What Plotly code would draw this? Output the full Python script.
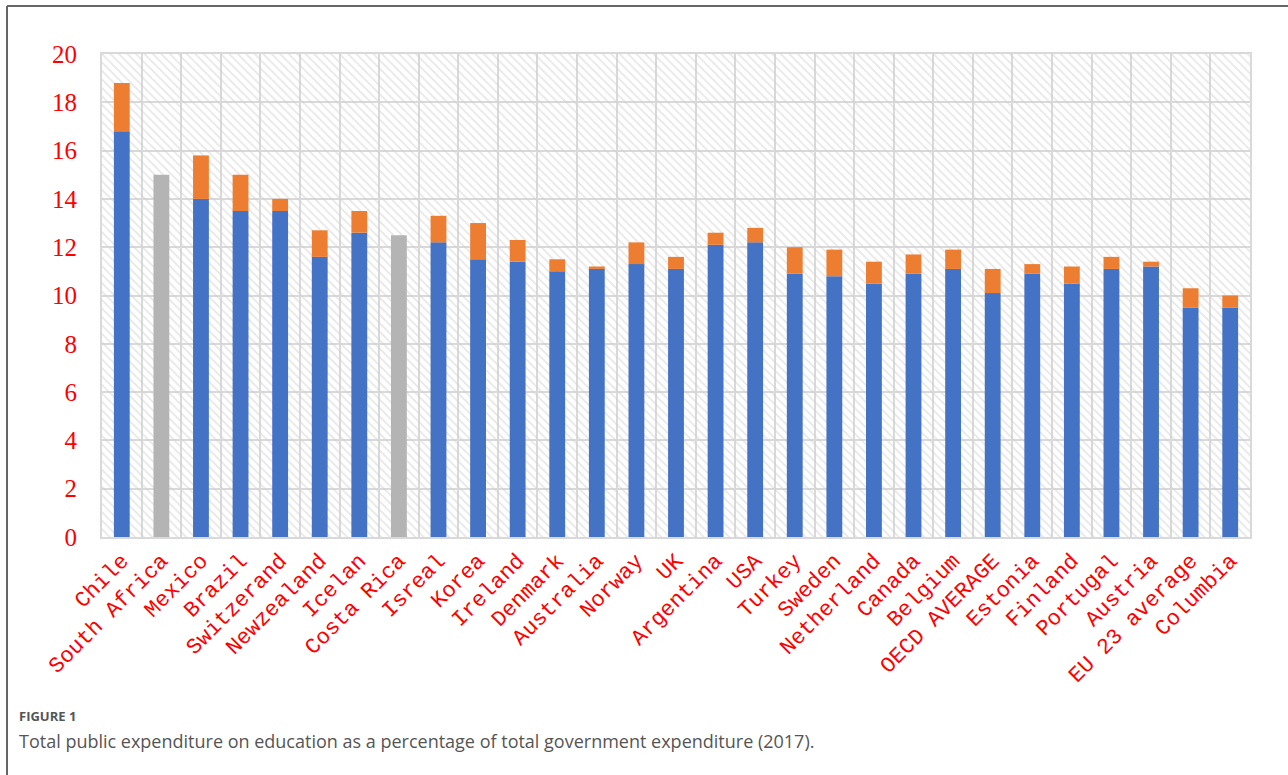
import plotly.graph_objects as go

countries = ["Chile", "South Africa", "Mexico", "Brazil", "Switzerand", "Newzealand", "Icelan",
             "Costa Rica", "Isreal", "Korea", "Ireland", "Denmark", "Australia", "Norway", "UK",
             "Argentina", "USA", "Turkey", "Sweden", "Netherland", "Canada", "Belgium",
             "OECD AVERAGE", "Estonia", "Finland", "Portugal", "Austria", "EU 23 average", "Columbia"]

# blue segment (lower part)
primary = [16.8, None, 14.0, 13.5, 13.5, 11.6, 12.6, None, 12.2, 11.5, 11.4, 11.0, 11.1, 11.3, 11.1,
           12.1, 12.2, 10.9, 10.8, 10.5, 10.9, 11.1, 10.1, 10.9, 10.5, 11.1, 11.2, 9.5, 9.5]
# orange segment (stacked on top of blue)
additional = [2.0, None, 1.8, 1.5, 0.5, 1.1, 0.9, None, 1.1, 1.5, 0.9, 0.5, 0.1, 0.9, 0.5,
              0.5, 0.6, 1.1, 1.1, 0.9, 0.8, 0.8, 1.0, 0.4, 0.7, 0.5, 0.2, 0.8, 0.5]
# grey bars (total only)
total_only = [None, 15.0, None, None, None, None, None, 12.5, None, None, None, None, None, None, None,
              None, None, None, None, None, None, None, None, None, None, None, None, None, None]

y_max = 20
y_ticks = list(range(0, 21, 2))

caption_label = "FIGURE 1"
caption_text = "Total public expenditure on education as a percentage of total government expenditure (2017)."

fig = go.Figure()

# hatched plot-area background
fig.add_trace(go.Bar(
    x=countries, y=[y_max] * len(countries), width=1,
    marker=dict(color="rgba(0,0,0,0)", line=dict(width=0),
                pattern=dict(shape="\\", fgcolor="#cfcfcf", size=6, solidity=0.3)),
    hoverinfo="skip", showlegend=False,
))

fig.add_trace(go.Bar(x=countries, y=primary, width=0.4, name="Primary",
                     marker=dict(color="#4472C4", line=dict(width=0))))
fig.add_trace(go.Bar(x=countries, y=additional, base=primary, width=0.4, name="Additional",
                     marker=dict(color="#ED7D31", line=dict(width=0))))
fig.add_trace(go.Bar(x=countries, y=total_only, width=0.4, name="Total",
                     marker=dict(color="#B4B4B4", line=dict(width=0))))

L, R, T, B = 102, 38, 54, 238
W, H = 1288, 775
pw, ph = W - L - R, H - T - B

def px_x(x):
    return (x - L) / pw

def px_y(y):
    return (H - B - y) / ph

fig.update_layout(
    width=W, height=H,
    margin=dict(l=L, r=R, t=T, b=B),
    barmode="overlay",
    showlegend=False,
    paper_bgcolor="white",
    plot_bgcolor="white",
    font=dict(family="Liberation Serif"),
    xaxis=dict(
        tickson="boundaries", showgrid=True, gridcolor="#d9d9d9", gridwidth=2,
        showline=True, linecolor="#d9d9d9", linewidth=2, mirror=True,
        ticks="", tickangle=-45,
        tickfont=dict(family="Liberation Mono", size=22, color="#FF0000"),
        range=[-0.5, len(countries) - 0.5],
    ),
    yaxis=dict(
        range=[0, y_max], tickvals=y_ticks, showgrid=True, gridcolor="#d9d9d9", gridwidth=2,
        showline=True, linecolor="#d9d9d9", linewidth=2, mirror=True, zeroline=False,
        ticks="", ticklabelstandoff=18,
        tickfont=dict(family="Liberation Serif", size=25, color="#FF0000"),
    ),
    shapes=[
        dict(type="line", xref="paper", yref="paper", x0=px_x(7), x1=px_x(W + 5),
             y0=px_y(6), y1=px_y(6), line=dict(color="#666666", width=2)),
        dict(type="line", xref="paper", yref="paper", x0=px_x(7), x1=px_x(7),
             y0=px_y(6), y1=px_y(H + 5), line=dict(color="#666666", width=2)),
    ],
    annotations=[
        dict(text="<b>" + caption_label + "</b>", xref="paper", yref="paper",
             x=px_x(17), y=px_y(716), xanchor="left", yanchor="middle", showarrow=False,
             font=dict(family="Open Sans", size=13, color="#555555")),
        dict(text=caption_text, xref="paper", yref="paper",
             x=px_x(17), y=px_y(741), xanchor="left", yanchor="middle", showarrow=False,
             font=dict(family="Open Sans", size=18, color="#555555")),
    ],
)

fig.write_html("out.html", config={"displayModeBar": False},
               post_script="document.body.style.margin='0';document.body.style.overflow='hidden';")
